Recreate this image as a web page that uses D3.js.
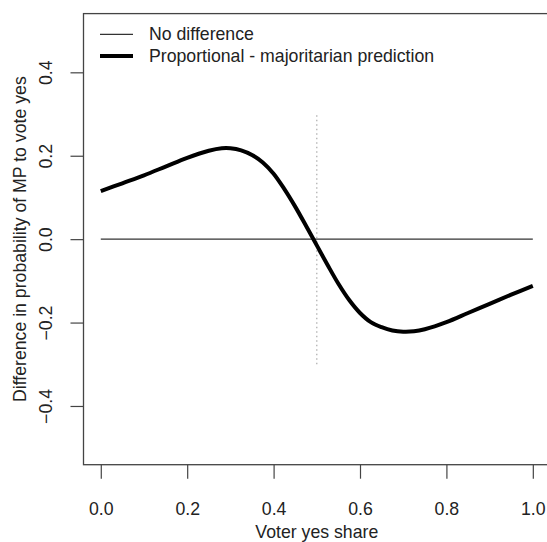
<!DOCTYPE html>
<html>
<head>
<meta charset="utf-8">
<script src="https://cdn.jsdelivr.net/npm/d3@7"></script>
<style>
    html, body { margin: 0; padding: 0; background: #fff; }
    svg { display: block; font-family: "Liberation Sans", Arial, Helvetica, sans-serif; }
</style>
</head>
<body>
<div id="chart"></div>
<script>
// Voter yes share (x) and difference in predicted MP yes probability (y)
const voterShare = [0.00, 0.05, 0.10, 0.15, 0.20, 0.25, 0.28, 0.30, 0.325, 0.35, 0.375, 0.40, 0.425, 0.45, 0.475,
    0.50, 0.525, 0.55, 0.575, 0.60, 0.625, 0.65, 0.675, 0.70, 0.725, 0.75, 0.80, 0.85, 0.90, 0.95, 1.00];
const probDiff = [0.115, 0.134, 0.153, 0.174, 0.195, 0.212, 0.218, 0.218, 0.213, 0.202, 0.184, 0.157, 0.120, 0.078, 0.032,
    -0.015, -0.062, -0.107, -0.146, -0.177, -0.199, -0.211, -0.219, -0.222, -0.221, -0.216, -0.199, -0.177, -0.155, -0.133, -0.112];

const xTicks = [0, 0.2, 0.4, 0.6, 0.8, 1.0];
const yTicks = [-0.4, -0.2, 0, 0.2, 0.4];
const legendLabels = ["No difference", "Proportional - majoritarian prediction"];

const width = 547, height = 542;
const fontSize = 17.7;

const svg = d3.select("#chart")
    .append("svg")
    .attr("width", width)
    .attr("height", height);

// R style: 4% padding on each side of the data range
const xScale = d3.scaleLinear()
    .domain([-0.04, 1.04])
    .range([83.5, 550.1]);

const yScale = d3.scaleLinear()
    .domain([-0.5408, 0.5408])
    .range([464.7, 13.6]);

const [plotLeft, plotRight] = xScale.range();
const [plotBottom, plotTop] = yScale.range();

// x axis
const xAxis = d3.axisBottom(xScale)
    .tickValues(xTicks)
    .tickFormat(d3.format(".1f"))
    .tickSize(14)
    .tickPadding(23.5);

svg.append("g")
    .attr("transform", `translate(0, ${plotBottom})`)
    .call(xAxis)
    .call(g => g.select(".domain").remove())
    .call(g => g.selectAll(".tick line").attr("stroke", "#444").attr("stroke-width", 1.2))
    .call(g => g.selectAll(".tick text")
        .attr("fill", "#222")
        .attr("font-size", fontSize)
        .attr("font-family", "Liberation Sans, Arial, sans-serif"));

// y axis, labels rotated like R's default las=0
const yAxis = d3.axisLeft(yScale)
    .tickValues(yTicks)
    .tickFormat(d3.format(".1f"))
    .tickSize(13);

const yAxisGroup = svg.append("g")
    .attr("transform", `translate(${plotLeft}, 0)`)
    .call(yAxis)
    .call(g => g.select(".domain").remove())
    .call(g => g.selectAll(".tick line").attr("stroke", "#444").attr("stroke-width", 1.2));

yAxisGroup.selectAll(".tick text")
    .attr("x", null)
    .attr("dy", null)
    .attr("transform", `translate(${51.7 - plotLeft}, 0) rotate(-90)`)
    .attr("text-anchor", "middle")
    .attr("fill", "#222")
    .attr("font-size", fontSize)
    .attr("font-family", "Liberation Sans, Arial, sans-serif");

// plot box
svg.append("rect")
    .attr("x", plotLeft)
    .attr("y", plotTop)
    .attr("width", plotRight - plotLeft)
    .attr("height", plotBottom - plotTop)
    .attr("fill", "none")
    .attr("stroke", "#444")
    .attr("stroke-width", 1.3);

// no difference line
svg.append("line")
    .attr("x1", xScale(0))
    .attr("x2", xScale(1))
    .attr("y1", yScale(0))
    .attr("y2", yScale(0))
    .attr("stroke", "#333")
    .attr("stroke-width", 1.3);

// dotted reference at 0.5
svg.append("line")
    .attr("x1", xScale(0.5))
    .attr("x2", xScale(0.5))
    .attr("y1", yScale(-0.3))
    .attr("y2", yScale(0.3))
    .attr("stroke", "#aaa")
    .attr("stroke-width", 1.2)
    .attr("stroke-dasharray", "1.5,3");

// prediction curve
const line = d3.line()
    .x(d => xScale(d[0]))
    .y(d => yScale(d[1]))
    .curve(d3.curveCatmullRom.alpha(0.5));

svg.append("path")
    .datum(voterShare.map((v, i) => [v, probDiff[i]]))
    .attr("fill", "none")
    .attr("stroke", "#000")
    .attr("stroke-width", 4)
    .attr("stroke-linejoin", "round")
    .attr("d", line);

// legend
const legend = svg.append("g");
const legendWidths = [1.3, 4];
legendLabels.forEach((label, i) => {
    const yPos = 34.3 + i * 21.8;
    legend.append("line")
        .attr("x1", 100)
        .attr("x2", 133)
        .attr("y1", yPos)
        .attr("y2", yPos)
        .attr("stroke", i === 0 ? "#333" : "#000")
        .attr("stroke-width", legendWidths[i]);
    legend.append("text")
        .attr("x", 149)
        .attr("y", yPos)
        .attr("dy", "0.35em")
        .attr("font-size", fontSize)
        .attr("fill", "#222")
        .text(label);
});

// axis titles
svg.append("text")
    .attr("x", (plotLeft + plotRight) / 2)
    .attr("y", 538.3)
    .attr("text-anchor", "middle")
    .attr("font-size", fontSize)
    .attr("fill", "#222")
    .text("Voter yes share");

svg.append("text")
    .attr("transform", `translate(25.7, ${(plotTop + plotBottom) / 2}) rotate(-90)`)
    .attr("text-anchor", "middle")
    .attr("font-size", fontSize)
    .attr("fill", "#222")
    .text("Difference in probability of MP to vote yes");
</script>
</body>
</html>
